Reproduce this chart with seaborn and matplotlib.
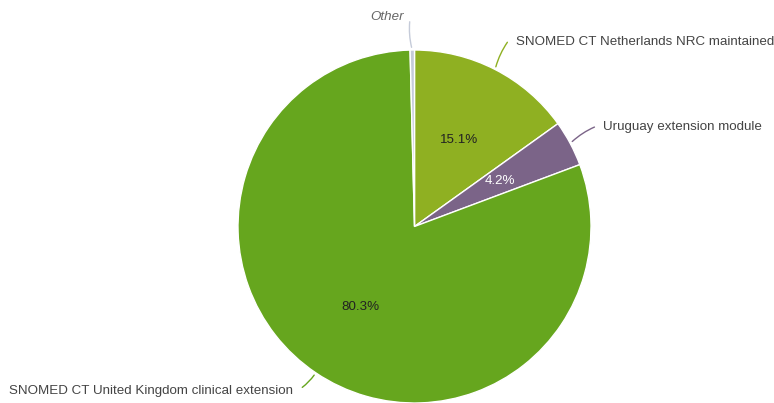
import matplotlib
matplotlib.use("Agg")
import matplotlib.pyplot as plt
import seaborn as sns
import numpy as np

labels = ["SNOMED CT Netherlands NRC maintained", "Uruguay extension module",
          "SNOMED CT United Kingdom clinical extension", "Other"]
shares = [15.1, 4.2, 80.3, 0.4]
colors = ["#8fb022", "#7b6488", "#66a61e", "#c5cbd9"]

sns.set_theme(style="white")
plt.rcParams['font.family'] = ['Liberation Sans', 'DejaVu Sans']

W, H = 774, 403
fig = plt.figure(figsize=(W / 100, H / 100), dpi=100)
ax = fig.add_axes([0, 0, 1, 1])

cx, cy, r = 414.5, 176.5, 176.5
wedges, texts, pcts = ax.pie(
    shares, colors=colors, startangle=90, counterclock=False,
    center=(cx, cy), radius=r, autopct=lambda p: f"{p:.1f}%" if p > 1 else "",
    pctdistance=0.55, wedgeprops=dict(edgecolor="white", linewidth=1),
    textprops=dict(fontsize=9.6, color="#222222"), frame=True)
ax.set_xlim(0, W)
ax.set_ylim(0, H)
ax.set_aspect("equal")
ax.axis("off")
pcts[1].set_color("white")

# label layout: (line end in pixels, text anchor in pixels, ha, italic)
layout = [
    ((509, 40), (516, 42), "left", False),
    ((597, 126), (603, 127), "left", False),
    ((300, 389), (293, 391), "right", False),
    ((410, 19), (404, 17), "right", True),
]
for w, lab, (end, txt, ha, ital) in zip(wedges, labels, layout):
    ang = np.deg2rad((w.theta1 + w.theta2) / 2)
    x0, y0 = cx + r * np.cos(ang), cy + r * np.sin(ang)
    ax.annotate("", xy=(x0, y0), xytext=(end[0], H - end[1]),
                arrowprops=dict(arrowstyle="-", color=w.get_facecolor(), lw=1,
                                connectionstyle="arc3,rad=0.1"))
    ax.text(txt[0], H - txt[1], lab, ha=ha, va="center",
            fontsize=9.6, color="#666666" if ital else "#444444",
            style="italic" if ital else "normal")

fig.savefig("out.png", dpi=100)
